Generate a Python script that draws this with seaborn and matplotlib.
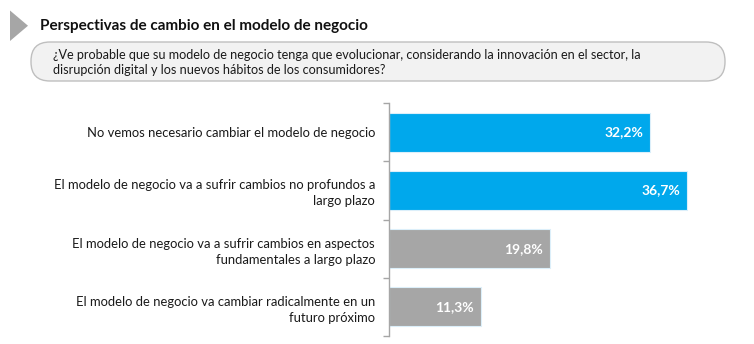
import matplotlib
matplotlib.use("Agg")
import matplotlib.pyplot as plt
import seaborn as sns
import pandas as pd
from matplotlib.patches import FancyBboxPatch, Polygon

categories = [
    "No vemos necesario cambiar el modelo de negocio",
    "El modelo de negocio va a sufrir cambios no profundos a\nlargo plazo",
    "El modelo de negocio va a sufrir cambios en aspectos\nfundamentales a largo plazo",
    "El modelo de negocio va cambiar radicalmente en un\nfuturo próximo",
]
values = [32.2, 36.7, 19.8, 11.3]
value_labels = ["32,2%", "36,7%", "19,8%", "11,3%"]
groups = ["a", "a", "b", "b"]
title = "Perspectivas de cambio en el modelo de negocio"
question = ("¿Ve probable que su modelo de negocio tenga que evolucionar, considerando la innovación en el sector, la\n"
            "disrupción digital y los nuevos hábitos de los consumidores?")

sns.set_theme(style="white")
plt.rcParams['font.family'] = ['Lato', 'DejaVu Sans']

W, H = 754, 344
fig = plt.figure(figsize=(W / 100, H / 100), dpi=100)

def fx(x):
    return x / W

def fy(y):
    return 1 - y / H

# overlay in pixel coordinates for header decorations
bg = fig.add_axes([0, 0, 1, 1])
bg.set_xlim(0, W)
bg.set_ylim(H, 0)
bg.axis("off")
bg.add_patch(Polygon([(10, 10.5), (10, 41), (28, 25.75)], closed=True,
                     facecolor="#A6A6A6", edgecolor="none"))
bg.add_patch(FancyBboxPatch((31, 42), 694, 39,
                            boxstyle="round,pad=0,rounding_size=19",
                            facecolor="#F2F2F2", edgecolor="#BFBFBF", linewidth=1.0))
bg.text(40, 26, title, fontsize=11, fontweight="bold", color="#111111",
        ha="left", va="center")
bg.text(53, 62.5, question, fontsize=9.1, color="#1a1a1a", ha="left",
        va="center", linespacing=1.35)

ax = fig.add_axes([fx(389), fy(336), fx(754) - fx(389), fy(103) - fy(336)])
df = pd.DataFrame({"cat": categories, "val": values, "grp": groups})
sns.barplot(data=df, y="cat", x="val", hue="grp", orient="h", dodge=False,
            palette={"a": "#00A8EC", "b": "#A6A6A6"}, width=0.67, saturation=1,
            edgecolor="#DCEFFA", linewidth=0.8, legend=False, ax=ax)
ax.set_xlim(0, 45)
ax.set_ylim(3.5, -0.5)
ax.set_xlabel("")
ax.set_ylabel("")
ax.set_xticks([])
for s in ["top", "right", "bottom"]:
    ax.spines[s].set_visible(False)
ax.spines["left"].set_color("#A6A6A6")
ax.spines["left"].set_linewidth(1.0)
ax.set_yticks([-0.5, 0.5, 1.5, 2.5, 3.5])
ax.set_yticklabels([])
ax.tick_params(axis="y", which="major", left=True, length=4, width=1.0, color="#A6A6A6")
ax.set_yticks(range(len(categories)), minor=True)
ax.set_yticklabels(categories, minor=True, fontsize=9.4, color="#1a1a1a", linespacing=1.4)
ax.tick_params(axis="y", which="minor", length=0, pad=10)

for i, (v, lab) in enumerate(zip(values, value_labels)):
    ax.text(v - 0.85, i, lab, ha="right", va="center", color="white",
            fontsize=10, fontweight="bold")

fig.savefig("out.png", dpi=100)
